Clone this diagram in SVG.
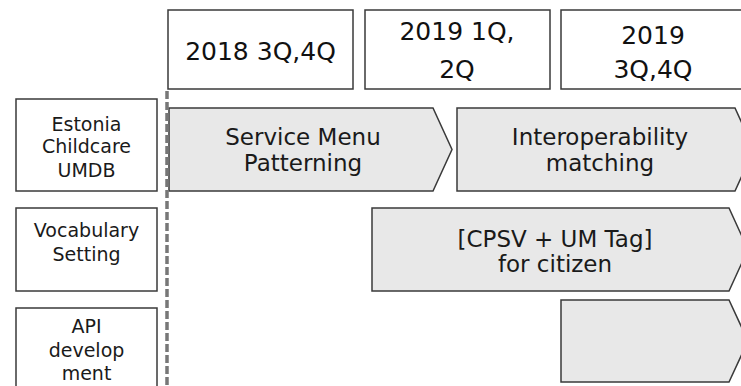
<svg xmlns="http://www.w3.org/2000/svg" width="741" height="386" viewBox="0 0 741 386">
<style>
.box{fill:#ffffff;stroke:#3a3a3a;stroke-width:1.5}
.bar{fill:#e8e8e8;stroke:#3a3a3a;stroke-width:1.5;stroke-linejoin:miter}
.hd{font-family:"DejaVu Sans",Verdana,sans-serif;font-size:25px;fill:#111;text-anchor:middle}
.tx{font-family:"DejaVu Sans",Verdana,sans-serif;font-size:23px;fill:#1a1a1a;text-anchor:middle}
.lb{font-family:"DejaVu Sans",Verdana,sans-serif;font-size:19px;fill:#1a1a1a;text-anchor:middle}
.dash{stroke:#777777;stroke-width:3.5;stroke-dasharray:8,3;fill:none}
</style>
<rect width="741" height="386" fill="#ffffff"/>
<g id="h2018">
<rect class="box" x="168" y="10" width="185" height="79"/>
<text class="hd" x="260.5" y="60">2018 3Q,4Q</text>
</g>
<g id="h2019a">
<rect class="box" x="365" y="10" width="185" height="79"/>
<text class="hd" x="457" y="40">2019 1Q,</text>
<text class="hd" x="457" y="77.5">2Q</text>
</g>
<g id="h2019b">
<rect class="box" x="561" y="10" width="185" height="79"/>
<text class="hd" x="653" y="43.5">2019</text>
<text class="hd" x="653" y="77.5">3Q,4Q</text>
</g>
<g id="rowEstonia">
<rect class="box" x="16" y="99" width="141" height="92"/>
<text class="lb" x="86.5" y="130.5">Estonia</text>
<text class="lb" x="86.5" y="153">Childcare</text>
<text class="lb" x="86.5" y="176.5">UMDB</text>
</g>
<g id="rowVocabulary">
<rect class="box" x="16" y="208" width="141" height="83"/>
<text class="lb" x="86.5" y="236.5">Vocabulary</text>
<text class="lb" x="86.5" y="260.5">Setting</text>
</g>
<g id="rowAPI">
<rect class="box" x="16" y="308" width="141" height="90"/>
<text class="lb" x="86.5" y="333">API</text>
<text class="lb" x="86.5" y="357">develop</text>
<text class="lb" x="86.5" y="380">ment</text>
</g>
<g id="barService">
<path class="bar" d="M169,108 L433,108 L452,149.5 L433,191 L169,191 Z"/>
<text class="tx" x="303" y="144.5">Service Menu</text>
<text class="tx" x="303" y="171">Patterning</text>
</g>
<g id="barInterop">
<path class="bar" d="M457,108 L735,108 L754,149.5 L735,191 L457,191 Z"/>
<text class="tx" x="600" y="144.5">Interoperability</text>
<text class="tx" x="600" y="171">matching</text>
</g>
<g id="barCPSV">
<path class="bar" d="M372,208 L729,208 L748,249.5 L729,291 L372,291 Z"/>
<text class="tx" x="555" y="246.5">[CPSV + UM Tag]</text>
<text class="tx" x="555" y="272">for citizen</text>
</g>
<g id="barAPI">
<path class="bar" d="M561,300 L729,300 L748,341 L729,382 L561,382 Z"/>
</g>
<g id="connectors">
<line class="dash" x1="167" y1="91" x2="167" y2="386"/>
</g>
</svg>
